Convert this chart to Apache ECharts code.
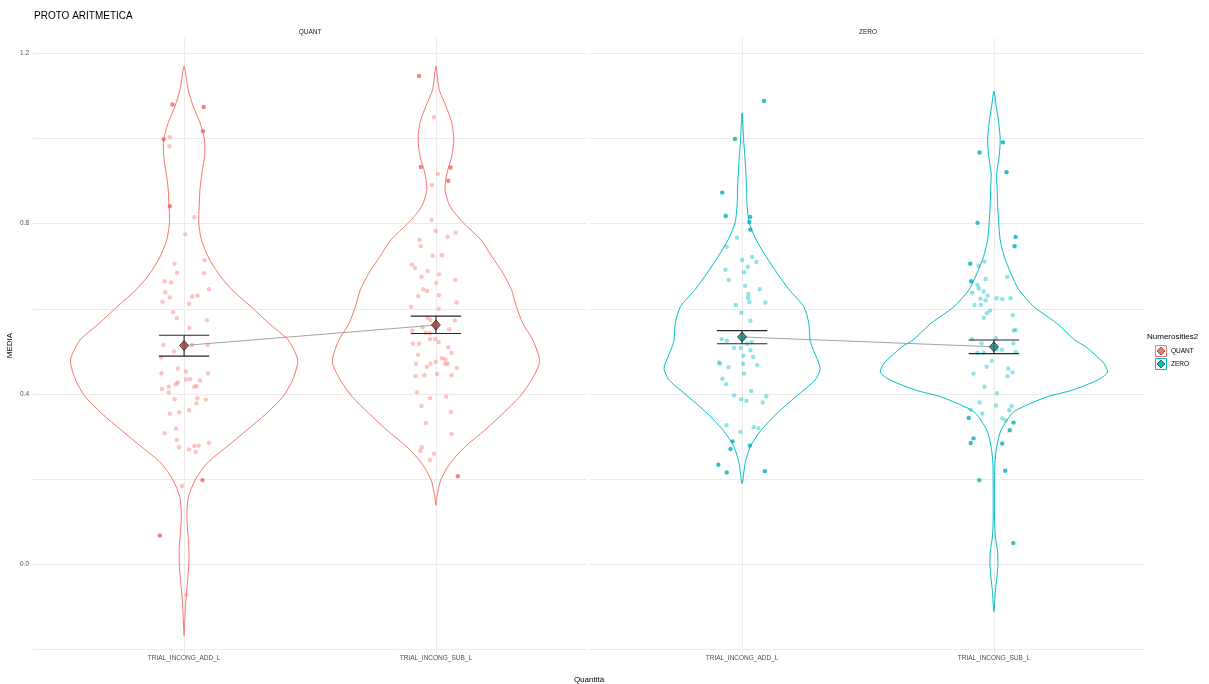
<!DOCTYPE html>
<html>
<head>
<meta charset="utf-8">
<script src="https://cdn.jsdelivr.net/npm/echarts@6/dist/echarts.min.js"></script>
<style>
  html, body { margin: 0; padding: 0; background: #ffffff; }
  #chart { width: 1209px; height: 684px; }
</style>
</head>
<body>
<div id="chart"></div>
<script>
// ---- data -------------------------------------------------------------
const categories = ['TRIAL_INCONG_ADD_L', 'TRIAL_INCONG_SUB_L'];
const facets = ['QUANT', 'ZERO'];
const yTickLabels = [0.0, 0.4, 0.8, 1.2];
const yGridValues = [-0.2, 0.0, 0.2, 0.4, 0.6, 0.8, 1.0, 1.2];

// violin outlines: [MEDIA value, half width in category units]
const violinQuantAdd = [
  [1.170, 0], [1.115, 0.016], [1.076, 0.036], [1.037, 0.063], [0.998, 0.081], [0.958, 0.081],
  [0.919, 0.071], [0.880, 0.063], [0.841, 0.060], [0.802, 0.058], [0.762, 0.069], [0.723, 0.095],
  [0.684, 0.135], [0.645, 0.190], [0.605, 0.266], [0.566, 0.337], [0.527, 0.413], [0.488, 0.448],
  [0.472, 0.451], [0.433, 0.431], [0.394, 0.393], [0.355, 0.328], [0.315, 0.249], [0.276, 0.169],
  [0.237, 0.090], [0.198, 0.044], [0.158, 0.017], [0.119, 0.011], [0.080, 0.014], [0.041, 0.019],
  [0.002, 0.019], [-0.038, 0.014], [-0.077, 0.008], [-0.116, 0.004], [-0.167, 0]
];
const violinQuantSub = [
  [1.170, 0], [1.115, 0.013], [1.076, 0.040], [1.037, 0.063], [0.998, 0.071], [0.958, 0.063],
  [0.919, 0.044], [0.880, 0.036], [0.841, 0.056], [0.802, 0.109], [0.762, 0.179], [0.723, 0.222],
  [0.684, 0.266], [0.645, 0.300], [0.605, 0.320], [0.566, 0.345], [0.527, 0.385], [0.488, 0.409],
  [0.470, 0.410], [0.433, 0.380], [0.394, 0.333], [0.355, 0.267], [0.315, 0.194], [0.276, 0.115],
  [0.237, 0.056], [0.198, 0.019], [0.158, 0.004], [0.139, 0]
];
const violinZeroAdd = [
  [1.060, 0], [0.998, 0.006], [0.958, 0.011], [0.919, 0.015], [0.880, 0.018], [0.841, 0.020],
  [0.802, 0.028], [0.762, 0.056], [0.723, 0.095], [0.684, 0.139], [0.645, 0.187], [0.605, 0.245],
  [0.566, 0.265], [0.527, 0.270], [0.511, 0.278], [0.488, 0.294], [0.460, 0.310], [0.433, 0.290],
  [0.394, 0.214], [0.355, 0.139], [0.315, 0.075], [0.276, 0.032], [0.237, 0.012], [0.190, 0]
];
const violinZeroSub = [
  [1.111, 0], [1.076, 0.009], [1.037, 0.019], [0.998, 0.025], [0.958, 0.021], [0.919, 0.011],
  [0.880, 0.013], [0.841, 0.015], [0.802, 0.019], [0.762, 0.025], [0.723, 0.041], [0.684, 0.067],
  [0.645, 0.099], [0.605, 0.159], [0.566, 0.250], [0.527, 0.321], [0.511, 0.365], [0.488, 0.409],
  [0.472, 0.437], [0.451, 0.451], [0.433, 0.412], [0.409, 0.310], [0.394, 0.213], [0.370, 0.115],
  [0.355, 0.073], [0.315, 0.028], [0.276, 0.011], [0.237, 0.004], [0.200, 0.003], [0.150, 0.003],
  [0.100, 0.003], [0.064, 0.006], [0.033, 0.014], [0.002, 0.016], [-0.030, 0.012], [-0.061, 0.006],
  [-0.111, 0]
];

// individual scores: [MEDIA value, horizontal jitter in category units]
const quantAddPoints = [
  [1.003, -0.056], [0.982, -0.058], [0.815, 0.041], [0.775, 0.005], [0.706, -0.038], [0.714, 0.082],
  [0.685, -0.028], [0.684, 0.079], [0.665, -0.077], [0.662, -0.052], [0.646, 0.099], [0.639, -0.075],
  [0.627, -0.057], [0.629, 0.032], [0.631, 0.054], [0.617, -0.086], [0.612, 0.020], [0.592, -0.044],
  [0.578, -0.029], [0.573, 0.091], [0.555, 0.021], [0.515, -0.082], [0.515, 0.032], [0.515, 0.094],
  [0.500, -0.040], [0.486, -0.091], [0.460, -0.025], [0.453, 0.008], [0.449, -0.090], [0.449, 0.095],
  [0.434, 0.008], [0.435, 0.024], [0.427, -0.025], [0.423, -0.033], [0.417, -0.061], [0.432, 0.063],
  [0.417, 0.040], [0.419, 0.050], [0.412, -0.088], [0.404, -0.061], [0.388, -0.038], [0.390, 0.053],
  [0.387, 0.086], [0.378, 0.049], [0.354, -0.057], [0.357, -0.019], [0.362, 0.020], [0.319, -0.032],
  [0.308, -0.077], [0.292, -0.029], [0.275, -0.020], [0.270, 0.019], [0.278, 0.041], [0.279, 0.058],
  [0.264, 0.046], [0.285, 0.098], [0.184, -0.008], [-0.071, 0.009]
];
const quantAddOutliers = [
  [1.080, -0.046], [1.074, 0.078], [1.017, 0.075], [0.998, -0.081], [0.841, -0.057], [0.198, 0.073],
  [0.068, -0.096]
];
const quantSubPoints = [
  [1.050, -0.008], [0.917, 0.008], [0.891, -0.016], [0.809, -0.017], [0.783, -0.001], [0.779, 0.079],
  [0.769, 0.046], [0.762, -0.065], [0.747, -0.060], [0.725, -0.013], [0.726, 0.024], [0.704, -0.095],
  [0.696, -0.083], [0.689, -0.033], [0.681, 0.012], [0.675, -0.057], [0.668, 0.077], [0.661, 0.001],
  [0.646, -0.050], [0.642, -0.035], [0.632, 0.012], [0.630, -0.070], [0.615, 0.082], [0.605, -0.099],
  [0.600, 0.011], [0.579, -0.033], [0.574, -0.021], [0.573, 0.075], [0.557, -0.053], [0.552, 0.053],
  [0.549, -0.094], [0.544, -0.041], [0.543, -0.024], [0.529, -0.023], [0.529, -0.003], [0.522, 0.011],
  [0.518, -0.091], [0.518, -0.067], [0.510, 0.049], [0.497, 0.062], [0.492, -0.071], [0.484, 0.024],
  [0.471, -0.079], [0.464, -0.036], [0.471, -0.021], [0.476, -0.001], [0.481, 0.037], [0.471, 0.037],
  [0.471, 0.046], [0.461, 0.083], [0.442, -0.081], [0.444, -0.046], [0.447, 0.005], [0.444, 0.062],
  [0.404, -0.075], [0.390, -0.023], [0.394, 0.041], [0.372, -0.057], [0.358, 0.060], [0.332, -0.040],
  [0.306, 0.062], [0.275, -0.056], [0.267, -0.062], [0.260, -0.008], [0.245, -0.024]
];
const quantSubOutliers = [
  [1.147, -0.067], [0.933, -0.060], [0.932, 0.058], [0.901, 0.049], [0.207, 0.087]
];
const zeroAddPoints = [
  [0.767, -0.020], [0.746, -0.061], [0.715, 0.000], [0.722, 0.040], [0.710, 0.057], [0.699, 0.023],
  [0.692, -0.066], [0.686, 0.008], [0.668, -0.053], [0.654, 0.012], [0.646, 0.070], [0.635, 0.025],
  [0.626, 0.023], [0.616, 0.029], [0.615, 0.092], [0.609, -0.025], [0.591, -0.003], [0.572, 0.033],
  [0.529, -0.081], [0.525, -0.060], [0.522, 0.038], [0.518, 0.020], [0.508, -0.032], [0.508, -0.005],
  [0.503, 0.033], [0.490, 0.005], [0.487, 0.044], [0.474, -0.092], [0.471, -0.087], [0.471, 0.004],
  [0.468, 0.060], [0.463, -0.054], [0.448, 0.007], [0.436, -0.078], [0.423, -0.063], [0.407, 0.036],
  [0.397, -0.032], [0.395, 0.096], [0.388, -0.004], [0.384, 0.017], [0.380, 0.082], [0.327, -0.062],
  [0.311, -0.007], [0.322, 0.046], [0.320, 0.065]
];
const zeroAddOutliers = [
  [1.088, 0.087], [0.999, -0.028], [0.873, -0.079], [0.818, -0.065], [0.816, 0.032], [0.804, 0.029],
  [0.786, 0.033], [0.289, -0.038], [0.279, 0.031], [0.271, -0.046], [0.234, -0.094], [0.216, -0.061],
  [0.219, 0.090]
];
const zeroSubPoints = [
  [0.711, -0.037], [0.701, -0.061], [0.675, 0.053], [0.670, -0.033], [0.656, -0.065], [0.648, -0.060],
  [0.641, -0.041], [0.638, -0.086], [0.624, -0.054], [0.620, -0.033], [0.625, 0.011], [0.623, 0.033],
  [0.625, 0.066], [0.631, -0.025], [0.609, -0.077], [0.609, -0.052], [0.596, -0.015], [0.590, -0.028],
  [0.579, -0.040], [0.585, 0.075], [0.549, 0.079], [0.551, 0.086], [0.529, -0.087], [0.531, 0.008],
  [0.519, -0.049], [0.519, 0.077], [0.505, 0.011], [0.504, 0.032], [0.497, -0.066], [0.497, -0.041],
  [0.499, 0.086], [0.478, -0.008], [0.464, -0.029], [0.460, 0.057], [0.451, 0.074], [0.448, -0.081],
  [0.442, 0.054], [0.417, -0.037], [0.402, 0.012], [0.380, -0.057], [0.373, 0.009], [0.372, 0.071],
  [0.363, -0.092], [0.362, 0.061], [0.354, -0.046], [0.343, 0.033], [0.338, 0.046]
];
const zeroSubOutliers = [
  [0.991, 0.036], [0.967, -0.057], [0.921, 0.050], [0.802, -0.065], [0.769, 0.086], [0.747, 0.082],
  [0.706, -0.094], [0.665, -0.090], [0.344, -0.100], [0.333, 0.078], [0.315, 0.063], [0.296, -0.081],
  [0.285, -0.092], [0.284, 0.033], [0.220, 0.045], [0.198, -0.058], [0.050, 0.077]
];

// group means with lower / upper error limits, per category (ADD, SUB)
const quantMeans = [0.514, 0.562];
const quantLower = [0.489, 0.542];
const quantUpper = [0.538, 0.583];
const zeroMeans = [0.534, 0.511];
const zeroLower = [0.518, 0.495];
const zeroUpper = [0.549, 0.527];

// ---- styling ----------------------------------------------------------
const FONT = '"Liberation Sans", Arial, Helvetica, sans-serif';
const GROUP_COLOR = { QUANT: '#F8766D', ZERO: '#00BFC4' };
const GROUP_LIGHT = { QUANT: 'rgba(248,118,109,0.55)', ZERO: 'rgba(0,191,196,0.55)' };
const GROUP_SOLID = { QUANT: '#F2625A', ZERO: '#00AEB3' };
const MEAN_FILL = { QUANT: '#9E3C37', ZERO: '#17797C' };
const GRID_LINE = '#EBEBEB';
const CAT_X = [1, 2];

const panels = [
  { name: 'QUANT', violins: [violinQuantAdd, violinQuantSub],
    points: [quantAddPoints, quantSubPoints], outliers: [quantAddOutliers, quantSubOutliers],
    means: quantMeans, lower: quantLower, upper: quantUpper },
  { name: 'ZERO', violins: [violinZeroAdd, violinZeroSub],
    points: [zeroAddPoints, zeroSubPoints], outliers: [zeroAddOutliers, zeroSubOutliers],
    means: zeroMeans, lower: zeroLower, upper: zeroUpper }
];

const gridBoxes = [
  { left: 33, top: 38, width: 554, height: 615 },
  { left: 591, top: 38, width: 554, height: 615 }
];

const grids = gridBoxes.map(b => Object.assign({ containLabel: false }, b));

const xAxes = gridBoxes.map((b, i) => ({
  type: 'value', gridIndex: i, min: 0.4, max: 2.6,
  axisLine: { show: false },
  axisTick: { show: false, customValues: CAT_X },
  axisLabel: {
    customValues: CAT_X,
    formatter: v => categories[Math.round(v) - 1],
    fontSize: 6.5, color: '#4D4D4D', fontFamily: FONT, margin: 2
  },
  splitLine: { show: true, lineStyle: { color: GRID_LINE, width: 1 } }
}));

const yAxes = gridBoxes.map((b, i) => ({
  type: 'value', gridIndex: i, min: -0.208, max: 1.236,
  name: i === 0 ? 'MEDIA' : '',
  nameLocation: 'middle', nameGap: 19, nameRotate: 90,
  nameTextStyle: { fontSize: 8, color: '#000', fontFamily: FONT },
  axisLine: { show: false },
  axisTick: { show: false, customValues: yGridValues },
  axisLabel: {
    show: i === 0, customValues: yTickLabels,
    formatter: v => v.toFixed(1),
    fontSize: 6.5, color: '#4D4D4D', fontFamily: FONT, margin: 4
  },
  splitLine: { show: true, lineStyle: { color: GRID_LINE, width: 1 } }
}));

function violinRenderer(profile, cx, color) {
  return function (params, api) {
    const left = profile.map(p => api.coord([cx - p[1], p[0]]));
    const right = profile.slice(1, -1).reverse().map(p => api.coord([cx + p[1], p[0]]));
    return {
      type: 'polygon',
      shape: { points: left.concat(right), smooth: 0.25 },
      style: { fill: 'none', stroke: color, lineWidth: 1 }
    };
  };
}

function errorBarRenderer(params, api) {
  const x = api.value(0);
  const lo = api.coord([x, api.value(1)]);
  const hi = api.coord([x, api.value(2)]);
  const capL = api.coord([x - 0.1, api.value(1)])[0];
  const capR = api.coord([x + 0.1, api.value(1)])[0];
  const st = { stroke: '#262626', lineWidth: 1.1 };
  return {
    type: 'group',
    children: [
      { type: 'line', shape: { x1: lo[0], y1: lo[1], x2: hi[0], y2: hi[1] }, style: st },
      { type: 'line', shape: { x1: capL, y1: lo[1], x2: capR, y2: lo[1] }, style: st },
      { type: 'line', shape: { x1: capL, y1: hi[1], x2: capR, y2: hi[1] }, style: st }
    ]
  };
}

const series = [];
panels.forEach((panel, gi) => {
  const color = GROUP_COLOR[panel.name];
  CAT_X.forEach((cx, ci) => {
    series.push({
      type: 'custom', xAxisIndex: gi, yAxisIndex: gi, z: 2, silent: true,
      data: [[cx, 0]],
      renderItem: violinRenderer(panel.violins[ci], cx, color)
    });
    series.push({
      type: 'scatter', xAxisIndex: gi, yAxisIndex: gi, z: 3, silent: true,
      symbol: 'circle', symbolSize: 4.4,
      itemStyle: { color: GROUP_LIGHT[panel.name] },
      data: panel.points[ci].map(p => [cx + p[1], p[0]])
    });
    series.push({
      type: 'scatter', xAxisIndex: gi, yAxisIndex: gi, z: 4, silent: true,
      symbol: 'circle', symbolSize: 4.4,
      itemStyle: { color: GROUP_SOLID[panel.name] },
      data: panel.outliers[ci].map(p => [cx + p[1], p[0]])
    });
  });
  // line linking the two group means
  series.push({
    type: 'line', xAxisIndex: gi, yAxisIndex: gi, z: 5, silent: true,
    symbol: 'none',
    lineStyle: { color: '#8C8C8C', width: 0.8 },
    data: CAT_X.map((cx, ci) => [cx, panel.means[ci]])
  });
  series.push({
    type: 'custom', xAxisIndex: gi, yAxisIndex: gi, z: 6, silent: true,
    data: CAT_X.map((cx, ci) => [cx, panel.lower[ci], panel.upper[ci]]),
    renderItem: errorBarRenderer
  });
  series.push({
    type: 'scatter', xAxisIndex: gi, yAxisIndex: gi, z: 7, silent: true,
    symbol: 'diamond', symbolSize: [9, 10],
    itemStyle: { color: MEAN_FILL[panel.name], borderColor: '#1A1A1A', borderWidth: 0.9 },
    data: CAT_X.map((cx, ci) => [cx, panel.means[ci]])
  });
});

// facet strips, shared x title and the legend
const graphics = [];
panels.forEach((panel, gi) => {
  const b = gridBoxes[gi];
  graphics.push({
    type: 'text', x: b.left + b.width / 2, y: 32,
    style: { text: facets[gi], fontSize: 6.5, fill: '#1A1A1A', fontFamily: FONT, textAlign: 'center', textVerticalAlign: 'middle' }
  });
});
graphics.push({
  type: 'text', x: (gridBoxes[0].left + gridBoxes[1].left + gridBoxes[1].width) / 2, y: 680,
  style: { text: 'Quantità', fontSize: 8, fill: '#000', fontFamily: FONT, textAlign: 'center', textVerticalAlign: 'middle' }
});
graphics.push({
  type: 'text', x: 1147, y: 337,
  style: { text: 'Numerosities2', fontSize: 8, fill: '#000', fontFamily: FONT, textVerticalAlign: 'middle' }
});
facets.forEach((name, i) => {
  const cy = 351 + i * 13;
  const kx = 1161;
  graphics.push({
    type: 'rect', shape: { x: kx - 5.5, y: cy - 5.5, width: 11, height: 11 },
    style: { fill: '#ffffff', stroke: GROUP_COLOR[name], lineWidth: 1 }
  });
  graphics.push({
    type: 'polygon',
    shape: { points: [[kx, cy - 4], [kx + 4, cy], [kx, cy + 4], [kx - 4, cy]] },
    style: { fill: GROUP_COLOR[name], stroke: '#333333', lineWidth: 0.7 }
  });
  graphics.push({
    type: 'text', x: kx + 10, y: cy,
    style: { text: name, fontSize: 6.5, fill: '#000', fontFamily: FONT, textVerticalAlign: 'middle' }
  });
});

const chart = echarts.init(document.getElementById('chart'), null, { renderer: 'canvas' });
chart.setOption({
  animation: false,
  backgroundColor: '#ffffff',
  textStyle: { fontFamily: FONT },
  title: {
    text: 'PROTO ARITMETICA', left: 34, top: 11, padding: 0,
    textStyle: { fontSize: 10, fontWeight: 'normal', color: '#000', fontFamily: FONT }
  },
  grid: grids,
  xAxis: xAxes,
  yAxis: yAxes,
  series: series,
  graphic: graphics
});
</script>
</body>
</html>
